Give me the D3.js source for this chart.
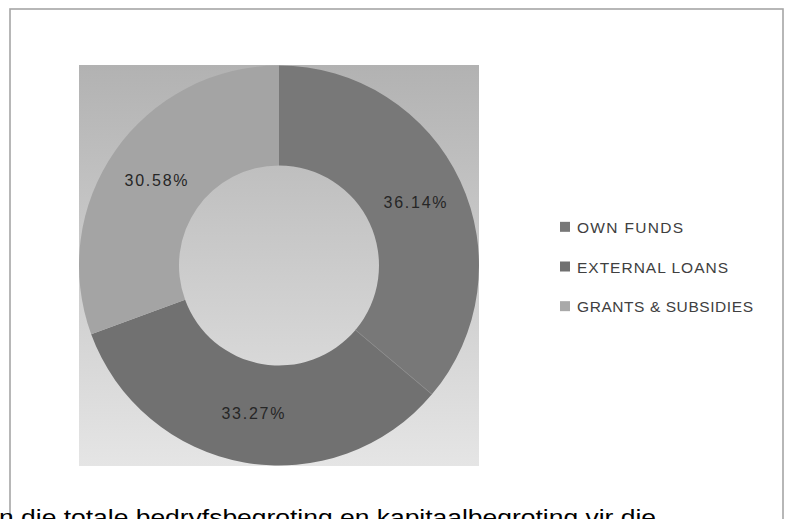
<!DOCTYPE html>
<html>
<head>
<meta charset="utf-8">
<script src="https://cdn.jsdelivr.net/npm/d3@7"></script>
<style>
  html, body { margin: 0; padding: 0; background: #fff; overflow: hidden; }
  svg { display: block; }
</style>
</head>
<body>
<svg id="chart" width="791" height="519"></svg>
<script>
// ---- data ----
const categories = ["OWN FUNDS", "EXTERNAL LOANS", "GRANTS & SUBSIDIES"];
const values = [36.14, 33.27, 30.58];
const labels = ["36.14%", "33.27%", "30.58%"];
const colors = ["#787878", "#717171", "#a4a4a4"];
const legendColors = ["#787878", "#707070", "#a9a9a9"];
const legendWidths = [106, 151, 176];
const bottomText = "n die totale bedryfsbegroting en kapitaalbegroting vir die";

const svg = d3.select("#chart");
const font = "'Liberation Sans', Arial, sans-serif";

// outer frame
svg.append("rect")
  .attr("x", 10).attr("y", 9).attr("width", 773).attr("height", 540)
  .attr("fill", "#fff").attr("stroke", "#a6a6a6").attr("stroke-width", 1.6);

// plot background gradient
const defs = svg.append("defs");
const grad = defs.append("linearGradient").attr("id", "bg")
  .attr("x1", 0).attr("y1", 0).attr("x2", 0).attr("y2", 1);
grad.append("stop").attr("offset", "0%").attr("stop-color", "#b2b2b2");
grad.append("stop").attr("offset", "100%").attr("stop-color", "#e5e5e5");

const plot = { x: 79, y: 65, w: 400, h: 401 };
svg.append("rect")
  .attr("x", plot.x).attr("y", plot.y).attr("width", plot.w).attr("height", plot.h)
  .attr("fill", "url(#bg)");

const cx = plot.x + plot.w / 2, cy = plot.y + plot.h / 2;
const outerR = 200, innerR = 100;

const pie = d3.pie().sort(null).value(d => d)(values);
const arc = d3.arc().innerRadius(innerR).outerRadius(outerR);

const g = svg.append("g").attr("transform", `translate(${cx},${cy})`);
g.selectAll("path.slice").data(pie).join("path")
  .attr("class", "slice")
  .attr("d", arc)
  .attr("fill", (d, i) => colors[i]);

// thin light separator between first and second slice
const a = pie[0].endAngle;
g.append("line")
  .attr("x1", innerR * Math.sin(a)).attr("y1", -innerR * Math.cos(a))
  .attr("x2", outerR * Math.sin(a)).attr("y2", -outerR * Math.cos(a))
  .attr("stroke", "#8c8c8c").attr("stroke-width", 0.8);

// percentage labels (centred in the ring)
const labelArc = d3.arc().innerRadius((innerR + outerR) / 2).outerRadius((innerR + outerR) / 2);
g.selectAll("text.pct").data(pie).join("text")
  .attr("class", "pct")
  .attr("x", d => labelArc.centroid(d)[0])
  .attr("y", d => labelArc.centroid(d)[1] + 6)
  .attr("text-anchor", "middle")
  .attr("font-family", font)
  .attr("font-size", 16)
  .attr("fill", "#262626")
  .attr("textLength", 63).attr("lengthAdjust", "spacing")
  .text((d, i) => labels[i]);

// legend
const legY = d3.scaleBand().domain(categories).range([207, 326]).paddingInner(0);
const leg = svg.append("g");
categories.forEach((c, i) => {
  const yc = legY(c) + legY.bandwidth() / 2;
  leg.append("rect")
    .attr("x", 560).attr("y", yc - 5).attr("width", 10).attr("height", 10)
    .attr("fill", legendColors[i]);
  leg.append("text")
    .attr("x", 577).attr("y", yc + 6)
    .attr("font-family", font).attr("font-size", 15.5)
    .attr("fill", "#404040")
    .attr("textLength", legendWidths[i]).attr("lengthAdjust", "spacing")
    .text(c);
});

// bottom page text (cut off by the page edge, as in the source)
svg.append("text")
  .attr("x", -1).attr("y", 525)
  .attr("font-family", font).attr("font-size", 22)
  .attr("fill", "#000")
  .attr("textLength", 657).attr("lengthAdjust", "spacingAndGlyphs")
  .text(bottomText);
</script>
</body>
</html>
